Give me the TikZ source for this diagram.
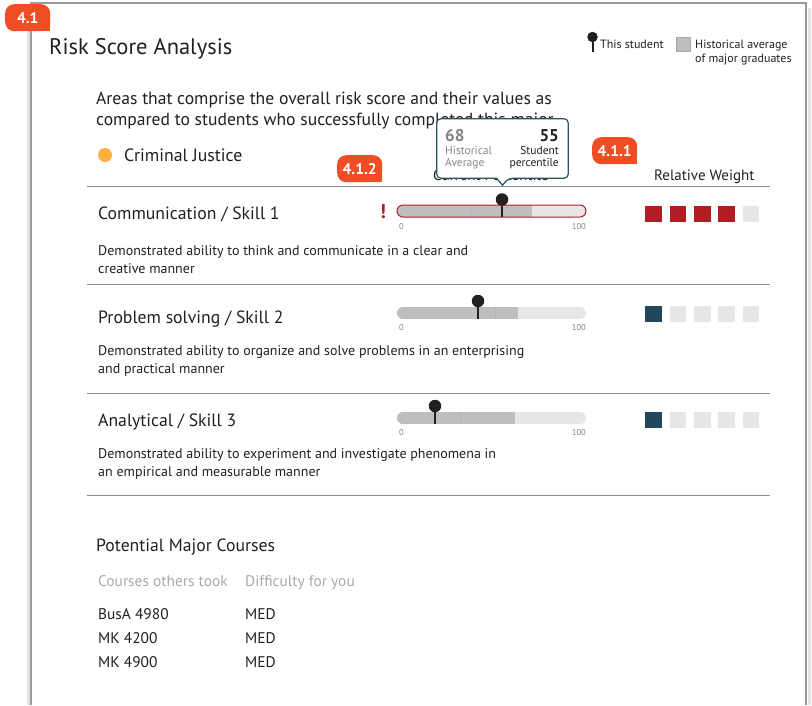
\documentclass[tikz,border=0pt]{standalone}
\usepackage{fontspec}
\setmainfont{PT Sans}
\usetikzlibrary{positioning}

\definecolor{ink}{HTML}{231F20}
\definecolor{badge}{HTML}{EF4E24}
\definecolor{panel}{HTML}{9A9A9B}
\definecolor{panelshade}{HTML}{E4E4E4}
\definecolor{rule}{HTML}{8E8E90}
\definecolor{barlight}{HTML}{E6E7E8}
\definecolor{bardark}{HTML}{BCBEC0}
\definecolor{barseg}{HTML}{B1B3B6}
\definecolor{alert}{HTML}{AE1F24}
\definecolor{teal}{HTML}{21475A}
\definecolor{tipline}{HTML}{2D5264}
\definecolor{softgray}{HTML}{A7A9AC}
\definecolor{midgray}{HTML}{808285}
\definecolor{dot}{HTML}{FBB040}

\begin{document}
\begin{tikzpicture}[x=1pt, y=-1pt,
  txt/.style={anchor=base west, inner sep=0pt, text=ink},
  badgebox/.style={fill=badge, rounded corners=9, minimum width=45, minimum height=27, inner sep=0pt, anchor=north west},
  badgetext/.style={text=white, font=\bfseries\fontsize{15.5}{17}\selectfont, inner sep=0pt},
  pinhead/.style={circle, fill=ink, inner sep=0pt, minimum size=12.5},
  stem/.style={draw=ink, line width=2.4},
  wsq/.style={minimum size=16.5, inner sep=0pt},
  tick/.style={inner sep=0pt, text=midgray, font=\fontsize{8.5}{10}\selectfont},
  sep/.style={draw=rule, line width=0.9}]
\useasboundingbox (0,0) rectangle (812,705);

% panel
\draw[panelshade, line width=3] (28,8) -- (28,705);
\draw[panelshade, line width=3] (809,8) -- (809,705);
\draw[panel, line width=2] (31,705) -- (31,3) -- (806,3) -- (806,705);

% badges
\node (b41bg) [badgebox] at (5,4) {};
\fill[badge] (b41bg.south east) rectangle ++(-10,-10);
\node (b41) [badgetext] at (b41bg.center) {4.1};
\node (b412bg) [badgebox] at (337,155) {};
\fill[badge] (b412bg.south east) rectangle ++(-10,-10);
\node (b412) [badgetext] at (b412bg.center) {4.1.2};
\node (b411bg) [badgebox] at (592,137) {};
\fill[badge] (b411bg.south east) rectangle ++(-10,-10);
\node (b411) [badgetext] at (b411bg.center) {4.1.1};

% heading and legend
\node (title) [txt, font=\fontsize{22.5}{26}\selectfont] at (49,54) {Risk Score Analysis};
\node (lgpin) [pinhead, minimum size=10.5] at (592.5,37) {};
\coordinate (lgpinend) at (592.5,52);
\draw[stem, line width=2] (lgpin) -- (lgpinend);
\node (lgstudent) [txt, font=\fontsize{12}{14}\selectfont] at (600,48) {This student};
\node (lgbox) [fill=bardark, draw=softgray, line width=0.4, minimum size=14, inner sep=0pt] at (683,44) {};
\node (lghist) [txt, font=\fontsize{12}{14}\selectfont] at (695,48) {Historical average};
\node (lghist2) [txt, font=\fontsize{12}{14}\selectfont] at (695,62) {of major graduates};

% intro
\node (introA) [txt, font=\fontsize{17.6}{20}\selectfont] at (96,104) {Areas that comprise the overall risk score and their values as};
\node (introB) [txt, font=\fontsize{17.6}{20}\selectfont] at (96,125) {compared to students who successfully completed this major};
\node (majordot) [circle, fill=dot, inner sep=0pt, minimum size=14] at (105,155) {};
\node (major) [txt, font=\fontsize{17.8}{20}\selectfont] at (124,161) {Criminal Justice};
\node (curhead) [txt, font=\fontsize{15}{17}\selectfont] at (433,180) {Current Percentile};
\node (relhead) [txt, font=\fontsize{15}{17}\selectfont] at (654,180) {Relative Weight};

% tooltip
\node (tip) [minimum width=131, minimum height=59, inner sep=0pt] at (502.5,148.5) {};
\draw[tipline, fill=white, line width=1.2, rounded corners=4] ([xshift=-6pt]tip.south) -- (tip.south west) -- (tip.north west) -- (tip.north east) -- (tip.south east) -- ([xshift=6pt]tip.south) [sharp corners] -- ([yshift=-7pt]tip.south) -- cycle;
\node (histval) [txt, text=midgray, font=\bfseries\fontsize{17}{20}\selectfont] at (445,141) {68};
\node (histlbl) [txt, text=softgray!80!black, font=\fontsize{11.5}{13}\selectfont] at (445,154) {Historical};
\node (histlbl2) [txt, text=softgray!80!black, font=\fontsize{11.5}{13}\selectfont] at (445,166) {Average};
\node (stuval) [txt, anchor=base east, font=\bfseries\fontsize{17}{20}\selectfont] at (559,141) {55};
\node (stulbl) [txt, anchor=base east, font=\fontsize{11.5}{13}\selectfont] at (559,154) {Student};
\node (stulbl2) [txt, anchor=base east, font=\fontsize{11.5}{13}\selectfont] at (559,166) {percentile};

\draw[sep] (87,186) -- (770,186);

% skill 1
\node (skillA) [txt, font=\fontsize{17.7}{20}\selectfont] at (98,219) {Communication / Skill 1};
\node (warnA) [txt, anchor=base, text=alert, font=\bfseries\fontsize{20}{22}\selectfont] at (383,218) {!};
\fill[barlight, rounded corners=6] (397,205) rectangle (586,217);
\begin{scope}
\clip[rounded corners=6] (397,205) rectangle (586,217);
\fill[bardark] (397,205) rectangle (532,217);
\draw[barseg, line width=0.5] (470,205) -- (470,217);
\end{scope}
\draw[alert, line width=1, rounded corners=6] (397,205) rectangle (586,217);
\node (pinA) [pinhead] at (502,199.5) {};
\coordinate (pinAend) at (502,217);
\draw[stem] (pinA) -- (pinAend);
\node (lowA) [tick, anchor=base west] at (399,229) {0};
\node (highA) [tick, anchor=base east] at (586,229) {100};
\node (wA1) [wsq, fill=alert] at (653.5,214) {};
\node (wA2) [wsq, fill=alert] at (677.9,214) {};
\node (wA3) [wsq, fill=alert] at (702.3,214) {};
\node (wA4) [wsq, fill=alert] at (726.7,214) {};
\node (wA5) [wsq, fill=barlight] at (751.1,214) {};
\node (descA) [txt, font=\fontsize{14}{16}\selectfont] at (98,255) {Demonstrated ability to think and communicate in a clear and};
\node (descA2) [txt, font=\fontsize{14}{16}\selectfont] at (98,273) {creative manner};

\draw[sep] (87,284) -- (770,284);

% skill 2
\node (skillB) [txt, font=\fontsize{17.7}{20}\selectfont] at (98,323) {Problem solving / Skill 2};
\fill[barlight, rounded corners=6] (397,307) rectangle (586,319);
\begin{scope}
\clip[rounded corners=6] (397,307) rectangle (586,319);
\fill[bardark] (397,307) rectangle (518,319);
\draw[barseg, line width=0.5] (495,307) -- (495,319);
\end{scope}
\node (pinB) [pinhead] at (478,301) {};
\coordinate (pinBend) at (478,319);
\draw[stem] (pinB) -- (pinBend);
\node (lowB) [tick, anchor=base west] at (399,330) {0};
\node (highB) [tick, anchor=base east] at (586,330) {100};
\node (wB1) [wsq, fill=teal] at (653.5,314) {};
\node (wB2) [wsq, fill=barlight] at (677.9,314) {};
\node (wB3) [wsq, fill=barlight] at (702.3,314) {};
\node (wB4) [wsq, fill=barlight] at (726.7,314) {};
\node (wB5) [wsq, fill=barlight] at (751.1,314) {};
\node (descB) [txt, font=\fontsize{14}{16}\selectfont] at (98,355) {Demonstrated ability to organize and solve problems in an enterprising};
\node (descB2) [txt, font=\fontsize{14}{16}\selectfont] at (98,373) {and practical manner};

\draw[sep] (87,393) -- (770,393);

% skill 3
\node (skillC) [txt, font=\fontsize{17.7}{20}\selectfont] at (98,426) {Analytical / Skill 3};
\fill[barlight, rounded corners=6] (397,412) rectangle (586,424);
\begin{scope}
\clip[rounded corners=6] (397,412) rectangle (586,424);
\fill[bardark] (397,412) rectangle (515,424);
\draw[barseg, line width=0.5] (460,412) -- (460,424);
\end{scope}
\node (pinC) [pinhead] at (435,406) {};
\coordinate (pinCend) at (435,424);
\draw[stem] (pinC) -- (pinCend);
\node (lowC) [tick, anchor=base west] at (399,435) {0};
\node (highC) [tick, anchor=base east] at (586,435) {100};
\node (wC1) [wsq, fill=teal] at (653.5,420) {};
\node (wC2) [wsq, fill=barlight] at (677.9,420) {};
\node (wC3) [wsq, fill=barlight] at (702.3,420) {};
\node (wC4) [wsq, fill=barlight] at (726.7,420) {};
\node (wC5) [wsq, fill=barlight] at (751.1,420) {};
\node (descC) [txt, font=\fontsize{14}{16}\selectfont] at (98,458) {Demonstrated ability to experiment and investigate phenomena in};
\node (descC2) [txt, font=\fontsize{14}{16}\selectfont] at (98,476) {an empirical and measurable manner};

\draw[sep] (87,495) -- (770,495);

% courses
\node (courses) [txt, font=\fontsize{17.7}{20}\selectfont] at (96,551) {Potential Major Courses};
\node (colA) [txt, text=softgray, font=\fontsize{15.4}{18}\selectfont] at (98,586) {Courses others took};
\node (colB) [txt, text=softgray, font=\fontsize{15.4}{18}\selectfont] at (245,586) {Difficulty for you};
\node (crs1) [txt, font=\fontsize{15.4}{18}\selectfont] at (98,619) {BusA 4980};
\node (crs2) [txt, font=\fontsize{15.4}{18}\selectfont] at (98,643) {MK 4200};
\node (crs3) [txt, font=\fontsize{15.4}{18}\selectfont] at (98,667) {MK 4900};
\node (dif1) [txt, font=\fontsize{15.4}{18}\selectfont] at (245,619) {MED};
\node (dif2) [txt, font=\fontsize{15.4}{18}\selectfont] at (245,643) {MED};
\node (dif3) [txt, font=\fontsize{15.4}{18}\selectfont] at (245,667) {MED};
\end{tikzpicture}
\end{document}
